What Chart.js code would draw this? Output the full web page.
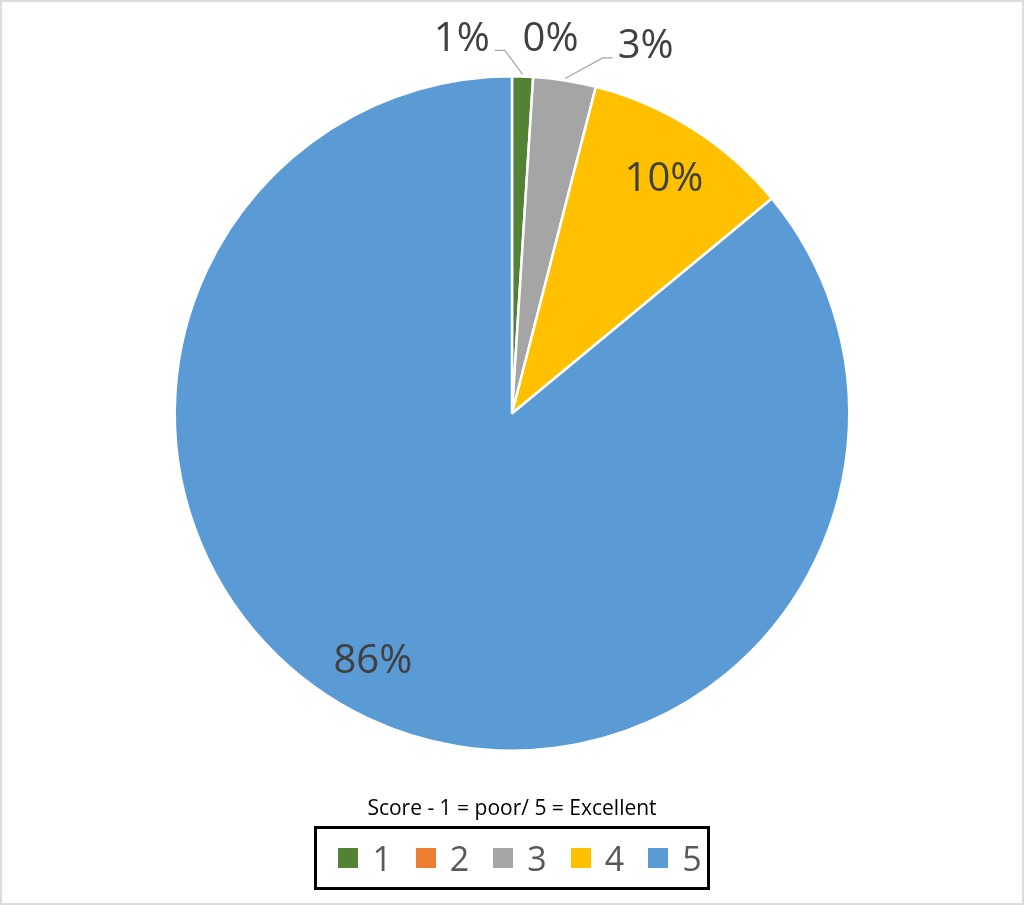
<!DOCTYPE html>
<html>
<head>
<meta charset="utf-8">
<script src="https://cdn.jsdelivr.net/npm/chart.js@4.4.1/dist/chart.umd.min.js"></script>
<style>
  html, body { margin: 0; padding: 0; background: #fff; }
  #wrap { position: relative; width: 1024px; height: 905px; overflow: hidden; }
  #wrap canvas { position: absolute; left: 0; top: 0; }
  #frame { position: absolute; left: 0; top: 0; width: 1024px; height: 905px; box-sizing: border-box;
           border: 2px solid #dcdcdc; pointer-events: none; }
  #legendTitle { position: absolute; left: 0; width: 1024px; top: 793px; text-align: center;
                 font-family: "Open Sans", sans-serif; font-size: 21px; color: #000; }
  #legendBox { position: absolute; left: 314px; top: 826px; width: 396px; height: 64px; box-sizing: border-box;
               border: 3px solid #000; display: flex; align-items: center; justify-content: center;
               padding-left: 16px; }
  .item { display: flex; align-items: center; margin: 0 12px; font-family: "Open Sans", sans-serif;
          font-size: 34px; color: #595959; }
  .swatch { width: 20px; height: 20px; margin-right: 14px; }
</style>
</head>
<body>
<div id="wrap">
  <canvas id="pieChart" width="1024" height="905"></canvas>
  <div id="legendTitle">Score - 1 = poor/ 5 = Excellent</div>
  <div id="legendBox"></div>
  <div id="frame"></div>
</div>
<script>
// categorias y valores (porcentaje de respuestas)
const scores = ['1', '2', '3', '4', '5'];
const shares = [1, 0, 3, 10, 86];
const colores = ['#548235', '#ED7D31', '#A5A5A5', '#FFC000', '#5B9BD5'];
const etiquetas = ['1%', '0%', '3%', '10%', '86%'];

// leyenda en HTML
const caja = document.getElementById('legendBox');
scores.forEach((s, i) => {
  caja.innerHTML += `<div class="item"><span class="swatch" style="background:${colores[i]}"></span>${s}</div>`;
});

// etiquetas de porcentaje (dentro y fuera del pastel)
const labelsPlugin = {
  id: 'pctLabels',
  afterDatasetsDraw(chart) {
    const ctx = chart.ctx;
    const arcs = chart.getDatasetMeta(0).data;
    ctx.save();
    ctx.font = '40px "Open Sans", sans-serif';
    ctx.fillStyle = '#404040';
    ctx.textAlign = 'center';
    ctx.textBaseline = 'middle';
    // desplazamientos para las porciones pequeñas (fuera del pastel)
    const fuera = { 0: { dx: -62, leader: true }, 1: { dx: 15, leader: false }, 2: { dx: 75, leader: true } };
    // ajuste para las etiquetas interiores
    const dentro = { 3: { dx: 2, dy: 2 }, 4: { dx: -20, dy: -5 } };
    arcs.forEach((arc, i) => {
      const p = arc.getProps(['x', 'y', 'startAngle', 'endAngle', 'outerRadius']);
      const mid = (p.startAngle + p.endAngle) / 2;
      if (fuera[i]) {
        const r = p.outerRadius + 38;
        const ax = p.x + Math.cos(mid) * r;
        const ay = p.y + Math.sin(mid) * r;
        const lx = ax + fuera[i].dx;
        const ly = ay + 1 + (i === 2 ? 3 : 0);
        if (fuera[i].leader) {
          const ex = p.x + Math.cos(mid) * (p.outerRadius + 2);
          const ey = p.y + Math.sin(mid) * (p.outerRadius + 2);
          const side = fuera[i].dx < 0 ? 1 : -1;
          const hx = lx + side * 33;
          ctx.strokeStyle = '#A6A6A6';
          ctx.lineWidth = 1.2;
          ctx.beginPath();
          ctx.moveTo(ex, ey);
          ctx.lineTo(hx + side * 10, ly + 11);
          ctx.lineTo(hx, ly + 11);
          ctx.stroke();
        }
        ctx.fillText(etiquetas[i], lx, ly);
      } else {
        const r = p.outerRadius * 0.83;
        ctx.fillText(etiquetas[i], p.x + Math.cos(mid) * r + dentro[i].dx, p.y + Math.sin(mid) * r + dentro[i].dy);
      }
    });
    ctx.restore();
  }
};

function initChart() {
  const ctx = document.getElementById('pieChart').getContext('2d');
  new Chart(ctx, {
    type: 'pie',
    data: {
      labels: scores,
      datasets: [{
        data: shares,
        backgroundColor: colores,
        borderColor: '#ffffff',
        borderWidth: 2.5
      }]
    },
    options: {
      responsive: false,
      animation: false,
      layout: { padding: { top: 75, bottom: 153, left: 0, right: 0 } },
      plugins: { legend: { display: false }, tooltip: { enabled: false } }
    },
    plugins: [labelsPlugin]
  });
}

document.addEventListener('DOMContentLoaded', initChart);
</script>
</body>
</html>
